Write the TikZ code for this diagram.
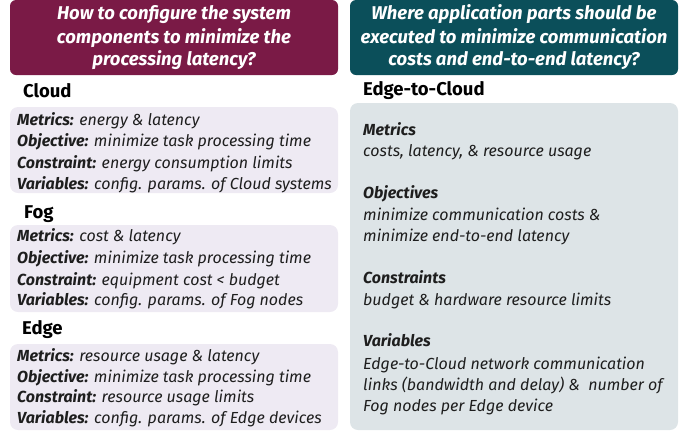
\documentclass[tikz,border=0pt]{standalone}
\usepackage{fontspec}
\setmainfont{Fira Sans}
\definecolor{maroon}{HTML}{7A1A46}
\definecolor{tealdk}{HTML}{0B4F5A}
\definecolor{lav}{HTML}{EEEAF3}
\definecolor{greybox}{HTML}{DDE4E7}
\definecolor{txt}{HTML}{1E1E1E}
\begin{document}
\begin{tikzpicture}[x=1pt,y=-1pt,
  htxt/.style={anchor=base, inner sep=0, text=white, font=\fontsize{18.5}{22}\selectfont\bfseries\itshape},
  lbl/.style={anchor=base west, inner sep=0, text=black, font=\fontsize{18.5}{22}\selectfont\bfseries},
  ln/.style={anchor=base west, inner sep=0, text=txt, font=\fontsize{16}{19}\selectfont\itshape},
]
\useasboundingbox (0,0) rectangle (683,432);
% headers
\fill[maroon, rounded corners=6pt] (10,0) rectangle (338,75);
\fill[tealdk, rounded corners=6pt] (350,0) rectangle (678,75);
\node[htxt] (h1a) at (174,19.5) {How to configure the system};
\node[htxt] (h1b) at (174,43) {components to minimize the};
\node[htxt] (h1c) at (174,65.5) {processing latency?};
\node[htxt] (h2a) at (514,19.5) {Where application parts should be};
\node[htxt] (h2b) at (514,43) {executed to minimize communication};
\node[htxt] (h2c) at (514,65.5) {costs and end-to-end latency?};
% left panels
\fill[lav, rounded corners=8pt] (10,107) rectangle (338,193);
\fill[lav, rounded corners=8pt] (10,225) rectangle (338,312);
\fill[lav, rounded corners=8pt] (10,344) rectangle (338,430);
\node[lbl] (cl) at (23,97) {Cloud};
\node[lbl] (fg) at (24,218) {Fog};
\node[lbl] (ed) at (22,334.5) {Edge};
\node[ln] (c1) at (17,125) {\textbf{Metrics:} energy \& latency};
\node[ln] (c2) at (17,146.5) {\textbf{Objective:} minimize task processing time};
\node[ln] (c3) at (17,168) {\textbf{Constraint:} energy consumption limits};
\node[ln] (c4) at (17,189) {\textbf{Variables:} config. params. of Cloud systems};
\node[ln] (f1) at (17,241.7) {\textbf{Metrics:} cost \& latency};
\node[ln] (f2) at (17,263.3) {\textbf{Objective:} minimize task processing time};
\node[ln] (f3) at (17,285) {\textbf{Constraint:} equipment cost < budget};
\node[ln] (f4) at (17,305.7) {\textbf{Variables:} config. params. of Fog nodes};
\node[ln] (e1) at (17,361.5) {\textbf{Metrics:} resource usage \& latency};
\node[ln] (e2) at (17,382) {\textbf{Objective:} minimize task processing time};
\node[ln] (e3) at (17,402.5) {\textbf{Constraint:} resource usage limits};
\node[ln] (e4) at (17,423.3) {\textbf{Variables:} config. params. of Edge devices};
% right panel
\fill[greybox, rounded corners=8pt] (350,103) rectangle (678,430);
\node[lbl] (ec) at (363,95) {Edge-to-Cloud};
\node[ln] (r1) at (363,135) {\textbf{Metrics}};
\node[ln] (r2) at (363,156.7) {costs, latency, \& resource usage};
\node[ln] (r3) at (363,198.3) {\textbf{Objectives}};
\node[ln] (r4) at (363,220) {minimize communication costs \&};
\node[ln] (r5) at (363,241.7) {minimize end-to-end latency};
\node[ln] (r6) at (363,283.3) {\textbf{Constraints}};
\node[ln] (r7) at (363,305) {budget \& hardware resource limits};
\node[ln] (r8) at (363,346.7) {\textbf{Variables}};
\node[ln] (r9) at (363,369) {Edge-to-Cloud network communication};
\node[ln] (r10) at (363,390) {links (bandwidth and delay) \&\ \ number of};
\node[ln] (r11) at (363,411) {Fog nodes per Edge device};
\end{tikzpicture}
\end{document}
